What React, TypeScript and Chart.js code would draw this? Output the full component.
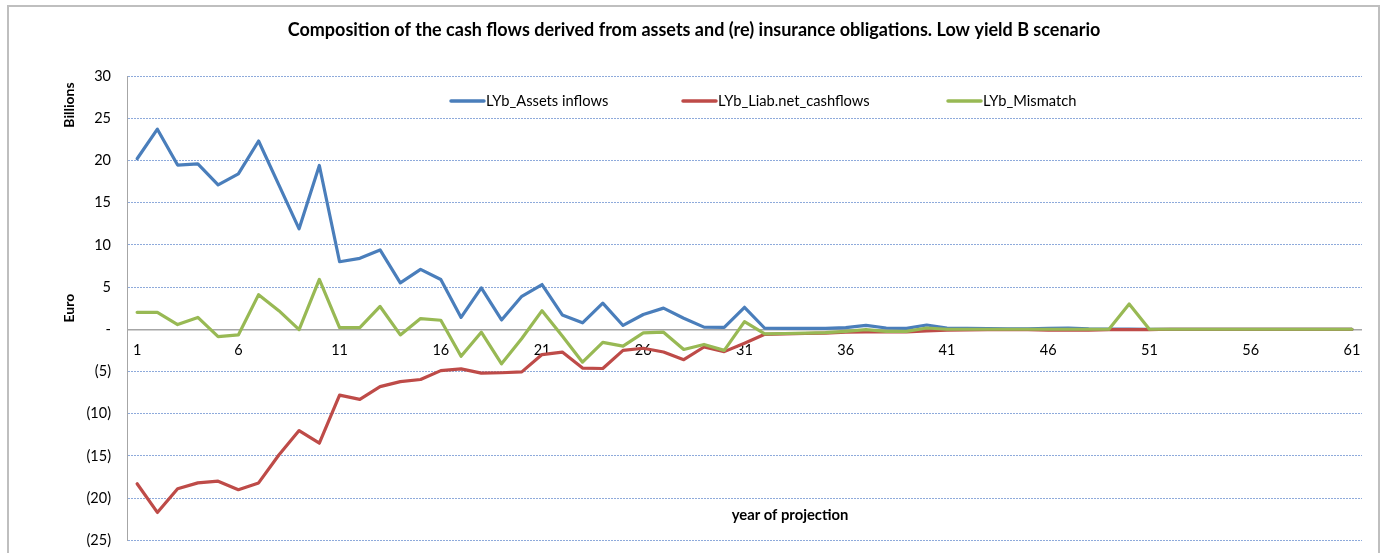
import React, { useEffect, useRef } from "react";
import { Chart, registerables } from "chart.js";

Chart.register(...registerables);

const TITLE =
  "Composition of the cash flows derived from assets and (re) insurance obligations. Low yield B scenario";
const X_TITLE = "year of projection";
const Y_TITLE = "Euro";
const Y_UNIT = "Billions";

const years = [
  "1", "2", "3", "4", "5", "6", "7", "8", "9", "10",
  "11", "12", "13", "14", "15", "16", "17", "18", "19", "20",
  "21", "22", "23", "24", "25", "26", "27", "28", "29", "30",
  "31", "32", "33", "34", "35", "36", "37", "38", "39", "40",
  "41", "42", "43", "44", "45", "46", "47", "48", "49", "50",
  "51", "52", "53", "54", "55", "56", "57", "58", "59", "60", "61",
];

const assetsInflows = [
  20.2, 23.7, 19.45, 19.6, 17.1, 18.4, 22.3, 17.1, 11.9, 19.4,
  8.0, 8.4, 9.4, 5.5, 7.1, 5.9, 1.4, 4.9, 1.1, 3.9,
  5.3, 1.7, 0.76, 3.1, 0.45, 1.75, 2.5, 1.3, 0.25, 0.22,
  2.6, 0.12, 0.1, 0.1, 0.1, 0.2, 0.45, 0.15, 0.1, 0.5,
  0.15, 0.1, 0.08, 0.05, 0.05, 0.12, 0.15, 0.05, 0.02, 0.02,
  0, 0, 0, 0, 0, 0, 0, 0, 0, 0, 0,
];

const liabNetCashflows = [
  -18.3, -21.7, -18.9, -18.2, -18.0, -19.0, -18.2, -14.9, -12.0, -13.5,
  -7.8, -8.3, -6.8, -6.2, -5.95, -4.9, -4.7, -5.2, -5.15, -5.05,
  -3.0, -2.7, -4.6, -4.65, -2.5, -2.25, -2.7, -3.6, -2.1, -2.65,
  -1.65, -0.6, -0.55, -0.5, -0.45, -0.35, -0.3, -0.3, -0.3, -0.2,
  -0.1, -0.08, -0.06, -0.05, -0.05, -0.1, -0.1, -0.1, -0.05, -0.05,
  -0.05, 0, 0, 0, 0, 0, 0, 0, 0, 0, 0,
];

const mismatch = [
  2.0, 2.0, 0.56, 1.4, -0.87, -0.67, 4.1, 2.2, -0.05, 5.9,
  0.2, 0.2, 2.7, -0.67, 1.27, 1.07, -3.2, -0.35, -4.1, -1.1,
  2.2, -0.8, -3.9, -1.55, -2.0, -0.43, -0.35, -2.4, -1.8, -2.5,
  0.9, -0.55, -0.5, -0.45, -0.4, -0.25, -0.05, -0.25, -0.25, 0.15,
  0, 0, 0, 0, 0, 0, 0, 0, 0, 3.0,
  0, 0, 0, 0, 0, 0, 0, 0, 0, 0, 0,
];

const seriesNames = ["LYb_Assets inflows", "LYb_Liab.net_cashflows", "LYb_Mismatch"];
const seriesColors = ["#4A7EBB", "#BE4B48", "#98B954"];

const FONT = "Lato, 'Open Sans', sans-serif";

const decorPlugin = {
  id: "decor",
  afterDraw(chart: any) {
    const ctx = chart.ctx;
    const area = chart.chartArea;
    ctx.save();
    ctx.fillStyle = "#000";
    ctx.textBaseline = "middle";
    // Title
    ctx.textAlign = "center";
    ctx.font = `bold 18px ${FONT}`;
    ctx.fillText(TITLE, 694, 30);
    // Units label
    ctx.save();
    ctx.translate(69, 105);
    ctx.rotate(-Math.PI / 2);
    ctx.font = `bold 14px ${FONT}`;
    ctx.fillText(Y_UNIT, 0, 0);
    ctx.restore();
    // X axis title
    ctx.font = `bold 14.8px ${FONT}`;
    ctx.fillText(X_TITLE, 790, 515);
    // Legend
    const legendX = [451, 683, 948];
    const ly = area.top + 25;
    ctx.font = `14.7px ${FONT}`;
    ctx.textAlign = "left";
    seriesNames.forEach((name, i) => {
      ctx.strokeStyle = seriesColors[i];
      ctx.lineWidth = 3.5;
      ctx.lineCap = "round";
      ctx.beginPath();
      ctx.moveTo(legendX[i], ly);
      ctx.lineTo(legendX[i] + 33, ly);
      ctx.stroke();
      ctx.fillStyle = "#000";
      ctx.fillText(name, legendX[i] + 35, ly);
    });
    ctx.restore();
  },
};

const CANVAS_H = 565;

export default function App() {
  const canvasRef = useRef<HTMLCanvasElement | null>(null);

  useEffect(() => {
    if (!canvasRef.current) return;
    const mk = (i: number, data: number[], order: number) => ({
      label: seriesNames[i],
      data,
      borderColor: seriesColors[i],
      backgroundColor: seriesColors[i],
      borderWidth: 3.2,
      pointRadius: 0,
      tension: 0,
      fill: false,
      borderJoinStyle: "round" as const,
      borderCapStyle: "round" as const,
      order,
    });
    const chart = new Chart(canvasRef.current, {
      type: "line",
      data: {
        labels: years,
        datasets: [
          mk(0, assetsInflows, 2),
          mk(1, liabNetCashflows, 1),
          mk(2, mismatch, 0),
        ],
      },
      plugins: [decorPlugin],
      options: {
        responsive: false,
        animation: false,
        layout: { padding: { left: 0, right: 19, top: 76, bottom: 1 } },
        plugins: {
          legend: { display: false },
          title: { display: false },
          tooltip: { enabled: false },
        },
        scales: {
          x: {
            type: "category",
            position: { y: 0 } as any,
            offset: true,
            grid: { display: false, drawTicks: false },
            border: { display: false },
            ticks: {
              autoSkip: false,
              maxRotation: 0,
              minRotation: 0,
              padding: 12,
              color: "#000",
              font: { family: FONT, size: 14.5 },
              callback: (_v: any, i: number) => (i % 5 === 0 ? years[i] : ""),
            },
            afterFit: (s: any) => {
              s.height = 0;
            },
          },
          y: {
            min: -25,
            max: 30,
            afterFit: (s: any) => {
              s.width = 127;
            },
            grid: {
              drawTicks: false,
              color: (c: any) => (c.tick && c.tick.value === 0 ? "#A6A6A6" : "#8EAADB"),
              lineWidth: (c: any) => (c.tick && c.tick.value === 0 ? 1.5 : 1),
            },
            border: {
              display: true,
              color: "#A6A6A6",
              width: 1,
              dash: (c: any) => (c.tick && c.tick.value === 0 ? [] : [2, 1]),
            } as any,
            title: {
              display: true,
              text: Y_TITLE,
              color: "#000",
              font: { family: FONT, size: 14, weight: "bold" },
              padding: { top: 61, bottom: 0 },
            },
            ticks: {
              stepSize: 5,
              padding: 16,
              color: "#000",
              font: { family: FONT, size: 14.5 },
              callback: (v: any) => {
                const n = Number(v);
                if (n === 0) return "-";
                if (n < 0) return `(${-n})`;
                return `${n}`;
              },
            },
          },
        },
      },
    });
    return () => chart.destroy();
  }, []);

  return (
    <div
      style={{
        position: "absolute",
        left: 0,
        top: 0,
        width: 1381,
        height: 553,
        overflow: "hidden",
        background: "#fff",
      }}
    >
      <div
        style={{
          position: "absolute",
          left: 7,
          top: 5,
          width: 1373,
          height: 620,
          border: "2px solid #BFBFBF",
          boxSizing: "border-box",
        }}
      />
      <canvas
        ref={canvasRef}
        width={1381}
        height={CANVAS_H}
        style={{ position: "absolute", left: 0, top: 0, width: 1381, height: CANVAS_H }}
      />
    </div>
  );
}
